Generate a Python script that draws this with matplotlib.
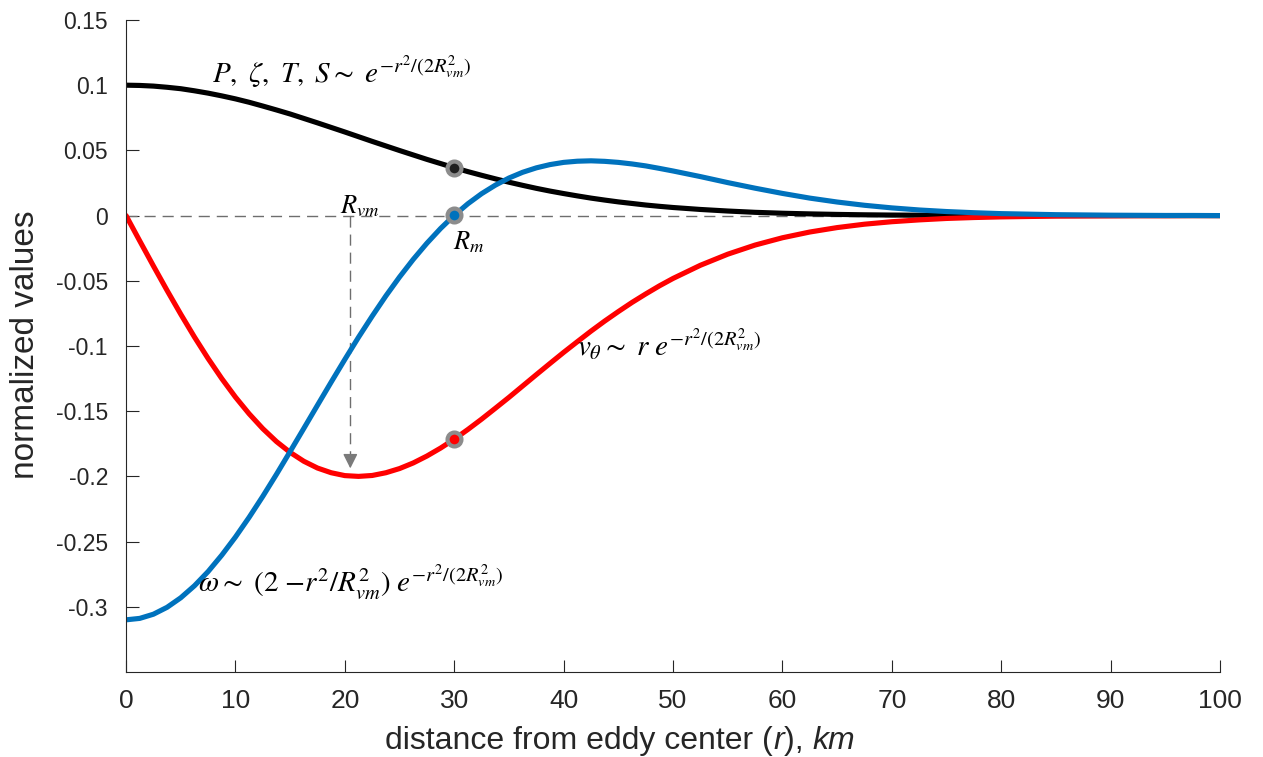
import matplotlib
matplotlib.use('Agg')
import matplotlib.pyplot as plt

plt.rcParams['font.family'] = ['Liberation Sans', 'DejaVu Sans']
plt.rcParams['mathtext.fontset'] = 'stix'

# distance from eddy center, km
r = [0, 1.25, 2.5, 3.75, 5, 6.25, 7.5, 8.75, 10, 11.25, 12.5, 13.75, 15, 16.25, 17.5,
     18.75, 20, 21.25, 22.5, 23.75, 25, 26.25, 27.5, 28.75, 30, 31.25, 32.5, 33.75, 35,
     36.25, 37.5, 38.75, 40, 41.25, 42.5, 43.75, 45, 46.25, 47.5, 48.75, 50,
     52.5, 55, 57.5, 60, 62.5, 65, 67.5, 70, 72.5, 75, 77.5, 80,
     82.5, 85, 87.5, 90, 92.5, 95, 97.5, 100]

# P, zeta, T, S (black)
p_vals = [0.1, 0.0998, 0.0993, 0.0984, 0.0973, 0.0957, 0.0939, 0.0918, 0.0895, 0.0869,
          0.0840, 0.0810, 0.0779, 0.0745, 0.0711, 0.0676, 0.0641, 0.0605, 0.0569, 0.0534,
          0.0499, 0.0465, 0.0431, 0.0399, 0.0367, 0.0337, 0.0309, 0.0282, 0.0256, 0.0232,
          0.0209, 0.0188, 0.0169, 0.0151, 0.0134, 0.0119, 0.0105, 0.0093, 0.0081, 0.0071,
          0.0062,
          0.0047, 0.0035, 0.0025, 0.0018, 0.0013, 0.0009, 0.0006, 0.0004, 0.0003, 0.0002,
          0.0001, 0.0001, 0, 0, 0, 0, 0, 0, 0, 0]

# v_theta (red)
v_vals = [0, -0.0194, -0.0386, -0.0574, -0.0756, -0.0931, -0.1096, -0.1250, -0.1392,
          -0.1520, -0.1634, -0.1733, -0.1816, -0.1884, -0.1936, -0.1972, -0.1994, -0.2000,
          -0.1993, -0.1972, -0.1940, -0.1897, -0.1844, -0.1783, -0.1715, -0.1640, -0.1561,
          -0.1478, -0.1394, -0.1307, -0.1220, -0.1134, -0.1049, -0.0967, -0.0886, -0.0809,
          -0.0736, -0.0666, -0.0601, -0.0539, -0.0482,
          -0.0381, -0.0296, -0.0226, -0.0170, -0.0126, -0.0092, -0.0066, -0.0047, -0.0033,
          -0.0022, -0.0015, -0.0010, -0.0007, -0.0004, -0.0003, -0.0002, -0.0001, -0.0001,
          0, 0]

# omega (blue)
w_vals = [-0.31, -0.3089, -0.3057, -0.3004, -0.2931, -0.2839, -0.2730, -0.2604, -0.2465,
          -0.2314, -0.2153, -0.1984, -0.1809, -0.1632, -0.1454, -0.1277, -0.1103, -0.0933,
          -0.0771, -0.0616, -0.0471, -0.0336, -0.0212, -0.0099, 0.0002, 0.0091, 0.0168,
          0.0233, 0.0288, 0.0332, 0.0366, 0.0391, 0.0408, 0.0417, 0.0420, 0.0416, 0.0408,
          0.0396, 0.0381, 0.0362, 0.0342,
          0.0299, 0.0253, 0.0210, 0.0170, 0.0134, 0.0104, 0.0079, 0.0059, 0.0043, 0.0031,
          0.0022, 0.0015, 0.0011, 0.0007, 0.0005, 0.0003, 0.0002, 0.0001, 0.0001, 0]

r_vm = 20.5
r_m = 30

fig = plt.figure(figsize=(12.63, 7.57), dpi=100)
ax = fig.add_axes([0.0998, 0.1123, 0.8662, 0.8613])

blue = '#0072BD'
red = '#FF0000'
grey = '#6e6e6e'
txt = '#262626'

ax.plot([0, 100], [0, 0], color=grey, lw=1, dashes=(8, 5))
ax.plot([r_vm, r_vm], [0, -0.184], color=grey, lw=1, dashes=(8, 5))
ax.annotate('', xy=(r_vm, -0.196), xytext=(r_vm, -0.183),
            arrowprops=dict(arrowstyle='-|>', color='#7a7a7a', lw=1, mutation_scale=22))

lw = 3.7
ax.plot(r, p_vals, color='black', lw=lw, solid_joinstyle='round', solid_capstyle='round')
ax.plot(r, v_vals, color=red, lw=lw, solid_joinstyle='round', solid_capstyle='round')
ax.plot(r, w_vals, color=blue, lw=lw, solid_joinstyle='round', solid_capstyle='round')

i = r.index(r_m)
for vals, c in [(p_vals, '#202020'), (w_vals, blue), (v_vals, red)]:
    ax.plot([r_m], [vals[i]], 'o', ms=10, mfc=c, mec='#8c8c8c', mew=3, zorder=5)

ax.text(7.9, 0.1015, r'$P,\ \zeta,\ T,\ S \sim\ e^{-r^2/(2R^2_{vm})}$', fontsize=21)
ax.text(6.6, -0.288, r'$\omega \sim\ (2\ \mathrm{-}r^2/R^2_{vm})\ e^{-r^2/(2R^2_{vm})}$', fontsize=21)
ax.text(41.2, -0.108, r'$v_\theta \sim\ r\ e^{-r^2/(2R^2_{vm})}$', fontsize=21)
ax.text(19.6, 0.002, r'$R_{vm}$', fontsize=19)
ax.text(29.9, -0.026, r'$R_m$', fontsize=19)

ax.set_xlim(0, 100)
ax.set_ylim(-0.35, 0.15)
ax.set_xticks(range(0, 101, 10))
ax.set_yticks([-0.3, -0.25, -0.2, -0.15, -0.1, -0.05, 0, 0.05, 0.1, 0.15])
ax.set_yticklabels(['-0.3', '-0.25', '-0.2', '-0.15', '-0.1', '-0.05', '0', '0.05', '0.1', '0.15'])
ax.tick_params(direction='in', length=9, width=0.8, colors=txt)
ax.tick_params(axis='x', labelsize=19, pad=12)
ax.tick_params(axis='y', labelsize=16.5, pad=13)
ax.spines['top'].set_visible(False)
ax.spines['right'].set_visible(False)
ax.spines['left'].set_color(txt)
ax.spines['bottom'].set_color(txt)

# x label in pieces so r and km are italic sans
pieces = [('distance from eddy center (', 'normal'), ('r', 'italic'),
          ('), ', 'normal'), ('km', 'italic')]
prev = ax.text(0.237, -0.118, pieces[0][0], fontsize=23, color=txt, ha='left',
               va='baseline', transform=ax.transAxes)
for s, st in pieces[1:]:
    prev = ax.annotate(s, xy=(1, 0), xycoords=prev, fontsize=23, color=txt,
                       style=st, ha='left', va='bottom')

ax.text(-0.0923, 0.5015, 'normalized values', fontsize=24, color=txt, rotation=90,
        ha='center', va='center', transform=ax.transAxes)

fig.savefig('out.png', dpi=100)
